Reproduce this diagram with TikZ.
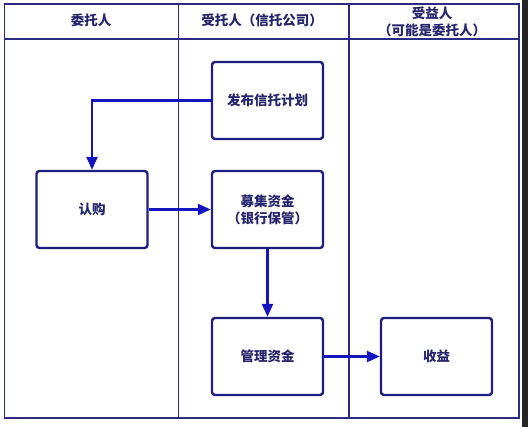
\documentclass[tikz,border=0pt]{standalone}
\usepackage{fontspec}
\setmainfont{Noto Sans CJK SC}
\usetikzlibrary{arrows.meta}
\definecolor{frame}{HTML}{2B2B85}
\definecolor{boxc}{HTML}{1E1E80}
\definecolor{arr}{HTML}{1414C0}
\definecolor{txt}{HTML}{25256E}
\tikzset{
  lane/.style={draw=frame, line width=1.1pt},
  stepbox/.style={draw=boxc, line width=2.4pt, rounded corners=3pt, minimum width=111pt, minimum height=77pt, inner sep=0pt, align=center, text=txt, font=\bfseries\fontsize{13.5pt}{17pt}\selectfont},
  hdr/.style={text=txt, align=center, font=\bfseries\fontsize{13.5pt}{17pt}\selectfont, inner sep=0pt},
  flow/.style={draw=arr, line width=2.4pt, -{Triangle[length=13pt,width=11pt]}}
}
\begin{document}
\begin{tikzpicture}[x=1pt,y=-1pt]
\useasboundingbox (0,0) rectangle (528,427);
\fill[white] (0,0) rectangle (528,427);
\fill[black!85] (521.5,0) rectangle (528,427);
% frame
\draw[lane] (4.5,4) rectangle (519,418);
\draw[lane] (4.5,39) -- (519,39);
\draw[lane] (178.5,4) -- (178.5,418);
\draw[lane] (349,4) -- (349,418);
% headers
\node[hdr] (h1) at (91,20) {委托人};
\node[hdr] (h2) at (262,20) {受托人（信托公司）};
\node[hdr] (h3) at (432,22) {受益人\\（可能是委托人）};
% boxes
\node[stepbox] (fabu) at (267.5,100.5) {发布信托计划};
\node[stepbox] (rengou) at (92,209.5) {认购};
\node[stepbox] (muji) at (267.5,209.5) {募集资金\\（银行保管）};
\node[stepbox] (guanli) at (267.5,356.5) {管理资金};
\node[stepbox] (shouyi) at (436.5,356.5) {收益};
% arrows
\draw[flow, rounded corners=0pt] (fabu.west) -| (rengou.north);
\draw[flow] (rengou.east) -- (muji.west);
\draw[flow] (muji.south) -- (guanli.north);
\draw[flow] (guanli.east) -- (shouyi.west);
\end{tikzpicture}
\end{document}
